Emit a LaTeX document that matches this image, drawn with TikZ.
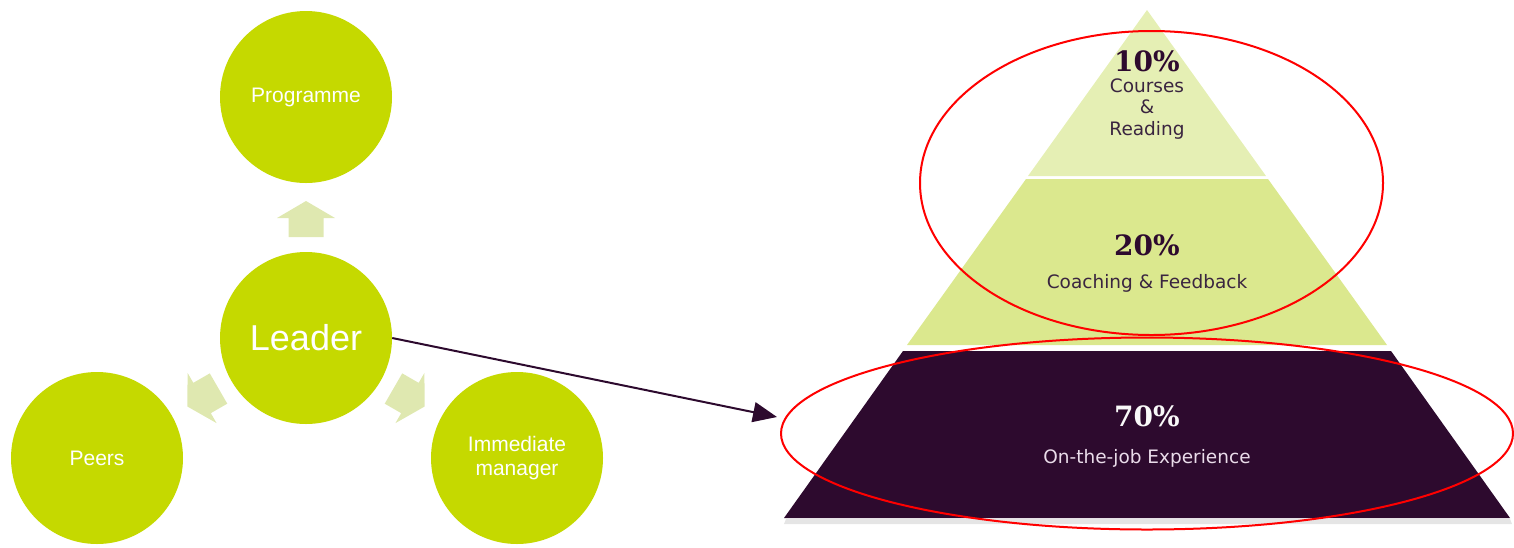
\documentclass[tikz,border=0pt]{standalone}
\usepackage{fontspec}
\setmainfont{Liberation Sans}
\newfontfamily\pyrfont{DejaVu Sans}
\newfontfamily\pctfont{DejaVu Serif}
\usetikzlibrary{arrows.meta}
\definecolor{circgreen}{HTML}{C5D900}
\definecolor{arrowgreen}{HTML}{DFE8B0}
\definecolor{toplayer}{HTML}{E5EFB4}
\definecolor{midlayer}{HTML}{DBE88E}
\definecolor{darkplum}{HTML}{2D0A2E}
\definecolor{plumtext}{HTML}{3A2540}
\definecolor{lighttext}{HTML}{EADCEA}
\begin{document}
\begin{tikzpicture}[x=1pt,y=-1pt,
  circ/.style={circle,fill=circgreen,minimum size=172pt,inner sep=0pt,text=white,align=center,font=\fontsize{21}{24}\selectfont},
  lightarrow/.style={fill=arrowgreen,draw=none},
  pct/.style={font=\pctfont\bfseries\fontsize{28}{30}\selectfont,inner sep=0pt},
  pyrtext/.style={font=\pyrfont\fontsize{18.5}{21.5}\selectfont,inner sep=0pt,align=center},
  redring/.style={draw=red,line width=2pt}]
\useasboundingbox (0,0) rectangle (1514,547);

% circles
\node[circ] (programme) at (306,97) {Programme};
\node[circ,font=\fontsize{36}{40}\selectfont] (leader) at (306,338) {Leader};
\node[circ] (peers) at (97,458) {Peers};
\node[circ] (manager) at (517,458) {Immediate\\manager};

% light arrows around leader
\foreach \ang in {0,120,-120}{
  \begin{scope}[shift={(306,338)},rotate=\ang]
    \fill[lightarrow] (0,-137) -- (29,-120) -- (17.5,-120) -- (17.5,-101)
      -- (-17.5,-101) -- (-17.5,-120) -- (-29,-120) -- cycle;
  \end{scope}
}

% pyramid
\fill[gray!20] (786,519) -- (1510,519) -- (1512,524) -- (784,524) -- cycle;
\fill[toplayer] (1147,10) -- (1266,176) -- (1028,176) -- cycle;
\fill[midlayer] (1026,179) -- (1268,179) -- (1387,345) -- (907,345) -- cycle;
\fill[darkplum] (903,351) -- (1391,351) -- (1510,518) -- (784,518) -- cycle;

% pyramid texts
\node[pct,text=darkplum] (p10) at (1147,61) {10\%};
\node[pyrtext,text=plumtext] (t10) at (1147,109) {Courses\\\&\\Reading};
\node[pct,text=darkplum] (p20) at (1147,245) {20\%};
\node[pyrtext,text=plumtext] (t20) at (1147,283) {Coaching \& Feedback};
\node[pct,text=white!95!gray] (p70) at (1147,416) {70\%};
\node[pyrtext,text=lighttext] (t70) at (1147,458) {On-the-job Experience};

% red ellipses
\draw[redring] (1151.5,183) ellipse [x radius=231.5, y radius=152];
\draw[redring] (1147,433.5) ellipse [x radius=366, y radius=96];

% dark connector
\coordinate (tip) at (777,417);
\draw[darkplum,line width=2pt,-{Triangle[length=24pt,width=20pt]}] (leader.east) -- (tip);
\end{tikzpicture}
\end{document}
